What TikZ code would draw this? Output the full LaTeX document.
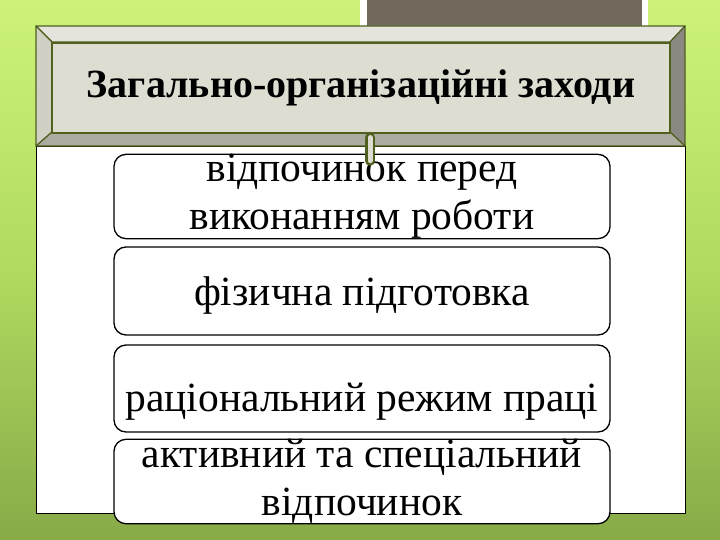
\documentclass[tikz,border=0pt]{standalone}
\usepackage{fontspec}
\setmainfont{Liberation Serif}
\usepackage{tikz}
\usetikzlibrary{calc}

\definecolor{bgtop}{RGB}{206,242,122}
\definecolor{bgmid}{RGB}{176,218,96}
\definecolor{bgbot}{RGB}{136,170,72}
\definecolor{rimgreen}{RGB}{80,96,30}
\definecolor{tabgray}{RGB}{114,105,92}
\definecolor{facegray}{RGB}{221,221,209}
\definecolor{topgray}{RGB}{228,228,220}
\definecolor{leftgray}{RGB}{208,208,196}
\definecolor{rightgray}{RGB}{138,136,128}
\definecolor{botgray}{RGB}{172,172,160}

\begin{document}
\begin{tikzpicture}[x=1pt,y=-1pt,
	bevel/.style={draw=rimgreen,line width=1.2pt,line join=round},
	itembox/.style={draw=black,line width=1.3pt,fill=white,rounded corners=12pt,
		minimum width=496pt,align=center,inner sep=0pt,
		font=\fontsize{41.5}{48}\selectfont},
	link/.style={draw=rimgreen,line width=2.6pt,double=facegray,double distance=5pt,line cap=round}]

	% background
	\shade[top color=bgtop,bottom color=bgbot,middle color=bgmid] (0,0) rectangle (720,540);
	\useasboundingbox (0,0) rectangle (720,540);

	% tab at the top
	\fill[white] (360,0) rectangle (648,27);
	\fill[tabgray] (367,0) rectangle (642,26);

	% white panel
	\draw[fill=white,line width=0.8pt] (36,146) rectangle (685,513);

	% header frame
	\draw[bevel,fill=topgray] (36,26) -- (685,26) -- (670,42) -- (52,42) -- cycle;
	\draw[bevel,fill=leftgray] (36,26) -- (52,42) -- (52,132) -- (36,146) -- cycle;
	\draw[bevel,fill=rightgray] (685,26) -- (685,146) -- (670,132) -- (670,42) -- cycle;
	\draw[bevel,fill=botgray] (36,146) -- (52,132) -- (670,132) -- (685,146) -- cycle;
	\node[bevel,fill=facegray,minimum width=618pt,minimum height=90pt,inner sep=0pt,
		font=\fontsize{40}{48}\selectfont\bfseries] (head) at (361,88) {Загально-організаційні заходи};

	% items
	\node[itembox,minimum height=83pt] (b1) at (362,196.5) {відпочинок перед\\виконанням роботи};
	\node[itembox,minimum height=88pt,text height=28pt,text depth=0pt] (b2) at (362,291) {фізична підготовка};
	\node[itembox,minimum height=87pt,text height=46pt,text depth=0pt] (b3) at (362,388.5) {раціональний режим праці};
	\node[itembox,minimum height=83pt] (b4) at (362,481.5) {активний та спеціальний\\відпочинок};

	% connector
	\draw[link] ([xshift=9pt,yshift=-4pt]head.south) -- ([xshift=8pt,yshift=-7pt]b1.north);

\end{tikzpicture}
\end{document}
